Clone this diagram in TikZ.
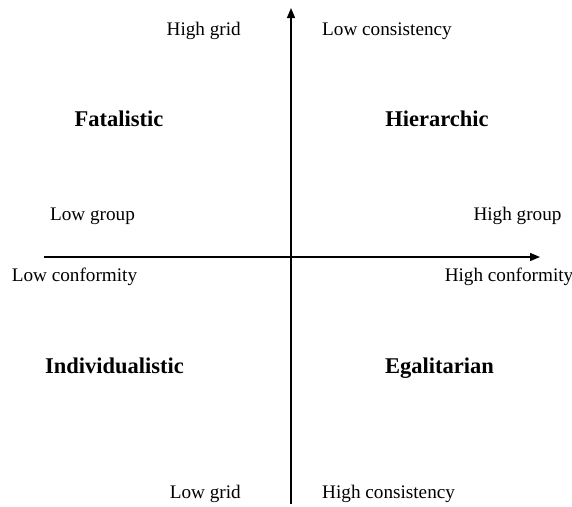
\documentclass[tikz,border=0pt]{standalone}
\usepackage{fontspec}
\setmainfont{Liberation Serif}
\usetikzlibrary{arrows.meta}
\tikzset{
  lbl/.style={inner sep=0pt, font=\fontsize{19.2}{21}\selectfont},
  quad/.style={inner sep=0pt, anchor=base, font=\fontsize{22.5}{25}\selectfont\bfseries},
  axis/.style={line width=1.4pt, -{Triangle[length=10pt,width=8pt]}}
}
\begin{document}
\begin{tikzpicture}[x=1pt,y=-1pt]
\useasboundingbox (0,0) rectangle (572,506);
\coordinate (vb) at (291,504);
\coordinate (vt) at (291,8);
\coordinate (hl) at (44,257);
\coordinate (hr) at (540,257);
\draw[axis] (vb) -- (vt);
\draw[axis] (hl) -- (hr);
\node[lbl, anchor=base east] (hg) at (241,35) {High grid};
\node[lbl, anchor=base west] (lc) at (322,35) {Low consistency};
\node[quad] (fat) at (119,126.5) {Fatalistic};
\node[quad] (hier) at (437,126.5) {Hierarchic};
\node[lbl, anchor=base] (lg) at (92.5,220) {Low group};
\node[lbl, anchor=base] (hgr) at (517.5,220) {High group};
\node[lbl, anchor=base] (lcf) at (74.5,281) {Low conformity};
\node[lbl, anchor=base] (hcf) at (509,281) {High conformity};
\node[quad] (ind) at (114.5,373) {Individualistic};
\node[quad] (ega) at (439.5,373) {Egalitarian};
\node[lbl, anchor=base east] (lgr) at (241,498.5) {Low grid};
\node[lbl, anchor=base west] (hc) at (322,498.5) {High consistency};
\end{tikzpicture}
\end{document}
